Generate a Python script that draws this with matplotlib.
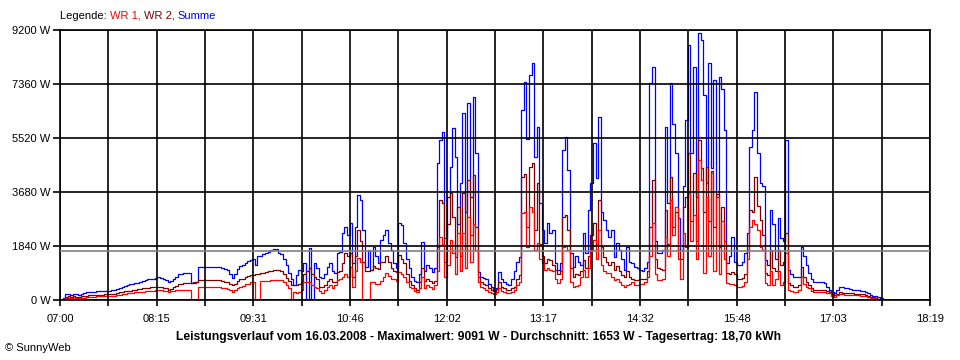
"""
Leistungsverlauf 16.03.2008 (SunnyWeb style day chart)
"""

import numpy as np
from matplotlib import pyplot as plt

# sample grid: 07:00 onwards, one value every 2 minutes
startMinute = 420
stepMinutes = 2

# Summe (blue), W
summe = [
    0, 80, 200, 200, 170, 200, 190, 180, 200, 230,
    270, 280, 280, 285, 290, 290, 300, 310, 320, 320,
    330, 350, 380, 420, 460, 480, 510, 530, 550, 570,
    580, 610, 660, 680, 700, 710, 730, 750, 770, 760,
    720, 680, 610, 650, 720, 800, 880, 900, 910, 920,
    920, 570, 570, 600, 1135, 1135, 1135, 1135, 1135, 1135,
    1135, 1135, 1110, 1080, 1050, 1020, 900, 740, 880, 1050,
    1150, 1190, 1260, 1320, 1360, 1390, 1190, 1500, 1500, 1560,
    1600, 1650, 1700, 1730, 1730, 1600, 1580, 1400, 1190, 920,
    700, 510, 850, 1020, 1000, 1260, 0, 1770, 0, 1260,
    1100, 780, 750, 880, 1120, 1260, 1000, 920, 1600, 1650,
    2280, 2490, 2200, 2620, 1260, 2490, 3580, 3410, 2380, 1120,
    1700, 1020, 1810, 1500, 1260, 2040, 2200, 2380, 1940, 1700,
    1260, 1100, 2620, 2550, 1940, 1400, 1100, 780, 650, 610,
    900, 1980, 1000, 1200, 1100, 960, 1100, 4670, 5450, 5730,
    2100, 3520, 4540, 5860, 4880, 2600, 4000, 6370, 3000, 6700,
    3500, 6930, 5000, 960, 800, 760, 700, 560, 450, 340,
    420, 960, 700, 600, 560, 520, 700, 990, 1300, 1480,
    6470, 7440, 5500, 7670, 8060, 4880, 5910, 3300, 2380, 1940,
    2620, 2300, 2400, 1260, 1020, 1260, 5110, 5560, 4430, 1600,
    1140, 1500, 1300, 1200, 2280, 1600, 3070, 4000, 5340, 4150,
    6250, 3000, 2730, 2400, 2160, 2400, 1480, 1940, 1700, 1400,
    1020, 1820, 1300, 1250, 1140, 1100, 1020, 1000, 1100, 1300,
    7380, 7950, 2000, 1600, 1600, 1700, 5910, 3300, 7380, 6000,
    5000, 2800, 1700, 3900, 6130, 8690, 5000, 7950, 3500, 9091,
    8860, 7000, 4000, 8060, 4500, 7500, 3500, 7610, 7200, 5790,
    1260, 1500, 2160, 1300, 1200, 1190, 1300, 1600, 2280, 5220,
    5800, 7100, 5000, 3980, 3900, 1360, 1200, 3070, 2600, 1400,
    2800, 2100, 2000, 5450, 1020, 900, 800, 780, 800, 1820,
    1500, 1200, 910, 700, 620, 620, 620, 600, 580, 450,
    340, 260, 230, 350, 450, 430, 420, 400, 380, 350,
    340, 330, 310, 300, 280, 240, 180, 150, 120, 90,
    70, 40,
]

# WR 2 (dark red), W
wr2 = [
    0, 50, 110, 120, 100, 120, 110, 110, 120, 130,
    150, 160, 160, 170, 170, 170, 180, 190, 200, 200,
    210, 220, 240, 260, 280, 290, 310, 320, 340, 350,
    360, 380, 400, 410, 420, 430, 440, 450, 450, 440,
    420, 400, 340, 380, 430, 480, 540, 560, 570, 570,
    570, 570, 600, 630, 680, 680, 680, 680, 680, 680,
    680, 680, 670, 650, 630, 610, 560, 510, 560, 640,
    700, 730, 770, 810, 840, 850, 870, 900, 910, 930,
    950, 980, 1000, 1020, 1020, 1020, 1000, 900, 760, 640,
    500, 500, 520, 560, 620, 900, 1000, 1080, 900, 800,
    700, 460, 440, 500, 650, 720, 620, 600, 950, 1000,
    1260, 1600, 1500, 1600, 800, 1500, 2380, 2000, 1300, 1000,
    1000, 1020, 1150, 1100, 1050, 1290, 1300, 1500, 1300, 1100,
    1000, 950, 1530, 1400, 1260, 900, 650, 510, 400, 340,
    600, 1090, 650, 700, 650, 580, 650, 1800, 3400, 3300,
    1300, 2600, 3640, 2840, 1480, 3180, 1500, 3640, 1700, 4090,
    2200, 4260, 2500, 800, 620, 560, 510, 420, 340, 300,
    360, 620, 450, 400, 340, 340, 400, 450, 700, 850,
    4200, 4300, 2500, 4540, 4660, 2400, 3980, 1900, 1500, 1260,
    1400, 1350, 1200, 1020, 900, 1000, 2840, 2900, 2380, 1100,
    800, 900, 850, 1000, 1360, 1100, 1500, 2200, 2620, 1900,
    3400, 1800, 1480, 1300, 1200, 1300, 1020, 1150, 1000, 850,
    800, 1000, 800, 700, 680, 680, 700, 700, 720, 1000,
    2500, 4090, 1400, 1100, 1050, 1020, 3070, 1900, 4200, 2500,
    3000, 1700, 1400, 3180, 3500, 5000, 2700, 4320, 2000, 5450,
    4500, 3000, 4540, 2700, 4400, 2500, 3600, 1800, 3180, 2000,
    910, 880, 950, 880, 700, 700, 740, 900, 1700, 3070,
    3000, 4200, 3200, 2730, 2200, 910, 850, 1700, 1100, 1000,
    1700, 1200, 1300, 2270, 570, 500, 450, 450, 500, 1140,
    800, 600, 510, 420, 340, 340, 340, 340, 330, 300,
    280, 220, 170, 220, 260, 250, 240, 230, 230, 230,
    220, 220, 210, 200, 180, 150, 110, 90, 70, 50,
    40, 20,
]

# WR 1 (red), W
wr1 = [
    0, 30, 70, 60, 60, 60, 60, 60, 70, 80,
    100, 110, 110, 110, 120, 120, 120, 130, 140, 140,
    140, 150, 160, 180, 200, 210, 230, 240, 250, 260,
    260, 270, 280, 290, 300, 310, 320, 330, 340, 330,
    320, 300, 280, 300, 320, 330, 340, 340, 340, 340,
    340, 0, 0, 0, 450, 450, 450, 450, 450, 450,
    450, 450, 440, 420, 400, 380, 330, 280, 330, 420,
    460, 490, 530, 560, 600, 620, 0, 0, 650, 660,
    650, 660, 670, 680, 680, 680, 680, 620, 510, 420,
    0, 260, 230, 260, 340, 600, 620, 620, 520, 460,
    400, 320, 230, 330, 460, 520, 400, 500, 680, 720,
    780, 900, 800, 1120, 460, 1000, 1430, 1300, 0, 0,
    0, 600, 600, 560, 560, 650, 800, 920, 820, 700,
    700, 650, 960, 900, 800, 600, 450, 400, 300, 280,
    400, 800, 420, 500, 430, 380, 500, 1000, 2160, 1900,
    800, 1200, 2040, 1600, 900, 2270, 1000, 2270, 1100, 2840,
    1300, 2600, 1700, 620, 450, 400, 340, 280, 230, 200,
    260, 400, 320, 280, 230, 230, 280, 340, 500, 620,
    2960, 3000, 1800, 3180, 3000, 1700, 1940, 1400, 1260, 1020,
    1100, 1020, 1000, 700, 580, 700, 1820, 1850, 1700, 600,
    450, 480, 520, 800, 1020, 800, 1100, 1700, 2040, 1400,
    2380, 1200, 1000, 920, 920, 800, 680, 700, 600, 500,
    450, 500, 550, 600, 520, 510, 530, 560, 600, 800,
    1500, 2620, 900, 680, 680, 700, 2160, 1500, 3400, 2200,
    3180, 1400, 700, 2300, 1800, 3640, 2000, 2900, 1400, 4770,
    4090, 920, 3500, 1500, 4320, 1000, 3500, 900, 2700, 1400,
    570, 560, 560, 500, 450, 450, 480, 600, 1400, 2500,
    2730, 2600, 2400, 1820, 1700, 570, 500, 1000, 500, 700,
    1000, 500, 600, 1600, 340, 300, 280, 280, 330, 800,
    560, 450, 400, 320, 280, 280, 280, 270, 260, 240,
    230, 150, 110, 170, 200, 190, 180, 180, 170, 170,
    160, 160, 150, 140, 120, 100, 80, 60, 50, 40,
    30, 20,
]

durchschnitt = 1653
yTicks = [0, 1840, 3680, 5520, 7360, 9200]
xLabels = ["07:00", "08:15", "09:31", "10:46", "12:02",
           "13:17", "14:32", "15:48", "17:03", "18:19"]
xStart = 420   # 07:00
xEnd = 1099    # 18:19

titleText = ("Leistungsverlauf vom 16.03.2008 - Maximalwert: 9091 W - "
             "Durchschnitt: 1653 W - Tagesertrag: 18,70 kWh")

RED = "#ff0000"
DARKRED = "#800000"
BLUE = "#0000ff"


def main():
    plt.rcParams['font.family'] = ['Liberation Sans', 'DejaVu Sans']
    plt.rcParams['font.size'] = 8

    fig = plt.figure(figsize=(9.6, 3.6), dpi=100)
    ax = fig.add_axes([60 / 960, 60 / 360, 870 / 960, 270 / 360])

    t = startMinute + stepMinutes * np.arange(len(summe))
    ax.plot(t, summe, color=BLUE, linewidth=0.9, drawstyle='steps-post')
    ax.plot(t, wr2, color=DARKRED, linewidth=0.9, drawstyle='steps-post')
    ax.plot(t, wr1, color=RED, linewidth=0.9, drawstyle='steps-post')
    ax.axhline(durchschnitt, color="#808080", linewidth=1.2, zorder=3)

    ax.set_xlim(xStart, xEnd)
    ax.set_ylim(0, 9200)

    xt = np.linspace(xStart, xEnd, 2 * len(xLabels) - 1)
    ax.set_xticks(xt)
    lbls = []
    for i in range(len(xt)):
        if i % 2 == 0:
            lbls += [xLabels[i // 2]]
        else:
            lbls += [""]
    ax.set_xticklabels(lbls)
    ax.set_yticks(yTicks)
    ax.set_yticklabels([str(v) + " W" for v in yTicks])

    ax.set_axisbelow(False)
    ax.grid(True, color="black", linewidth=1.2)
    ax.tick_params(axis='x', length=4, width=1.2, pad=6, direction='out')
    ax.tick_params(axis='y', length=5, width=1.2, pad=2, direction='out')
    for s in ax.spines.values():
        s.set_linewidth(1.2)

    # legend line at the top
    t0 = fig.text(60 / 960, 1 - 16 / 360, "Legende: ", color="black", va='center')
    t1 = ax.annotate("WR 1, ", xy=(1, 0), xycoords=t0, va='bottom', color=RED)
    t2 = ax.annotate("WR 2, ", xy=(1, 0), xycoords=t1, va='bottom', color=DARKRED)
    ax.annotate("Summe", xy=(1, 0), xycoords=t2, va='bottom', color=BLUE)

    fig.text(478 / 960, 1 - 337 / 360, titleText, ha='center', va='center',
             fontweight='bold', fontsize=8.7)
    fig.text(5 / 960, 1 - 348 / 360, "\u00a9 SunnyWeb", ha='left', va='center')

    fig.savefig("out.png", dpi=100)


if __name__ == "__main__":
    main()
